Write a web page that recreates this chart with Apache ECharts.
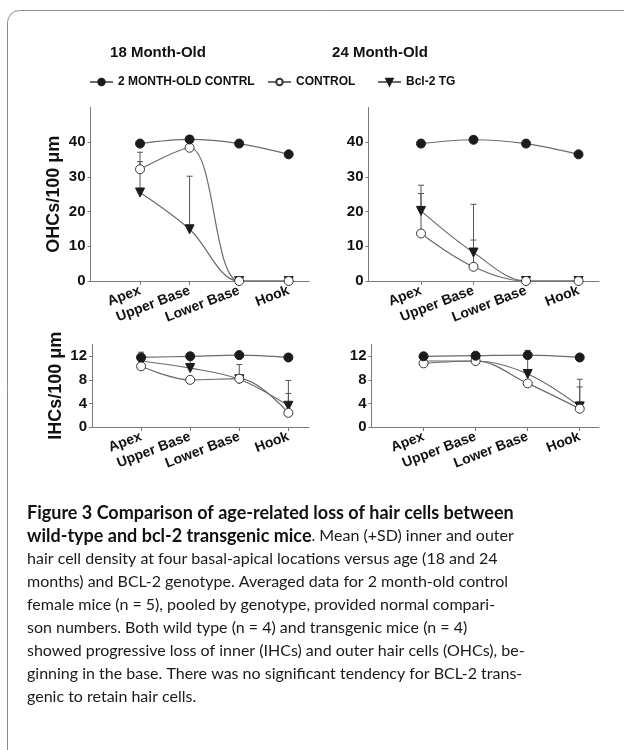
<!DOCTYPE html>
<html lang="en">
<head>
<meta charset="UTF-8">
<title>Figure 3</title>
<style>
  html, body { margin: 0; padding: 0; background: #fff; }
  #chart { width: 624px; height: 750px; }
</style>
</head>
<body>
<div id="chart"></div>
<script src="https://cdn.jsdelivr.net/npm/echarts@6/dist/echarts.min.js"></script>
<script>
// locations along the cochlea (x positions 1..4)
var locations = ['Apex', 'Upper Base', 'Lower Base', 'Hook'];
var groupNames = ['2 MONTH-OLD CONTRL', 'CONTROL', 'Bcl-2 TG'];
var ohcTicks = [0, 10, 20, 30, 40];
var ihcTicks = [0, 4, 8, 12];

// OHCs/100 um, 18 month-old
var ohc18Ctrl2mo = [39.6, 40.8, 39.6, 36.5];
var ohc18Control = [32.2, 38.4, 0, 0];
var ohc18Bcl2 = [25.5, 14.9, 0, 0];
var ohc18Ctrl2moSd = [0, 1.0, 0, 0];
var ohc18ControlSd = [4.9, 0, 0, 0];
var ohc18Bcl2Sd = [8.9, 15.3, 0, 0];

// OHCs/100 um, 24 month-old
var ohc24Ctrl2mo = [39.6, 40.7, 39.6, 36.5];
var ohc24Control = [13.7, 4.1, 0, 0];
var ohc24Bcl2 = [20.2, 8.2, 0, 0];
var ohc24Ctrl2moSd = [0, 0, 0, 0];
var ohc24ControlSd = [11.5, 7.7, 0, 0];
var ohc24Bcl2Sd = [7.4, 13.9, 0, 0];

// IHCs/100 um, 18 month-old
var ihc18Ctrl2mo = [11.8, 12.0, 12.2, 11.8];
var ihc18Control = [10.3, 8.0, 8.2, 2.4];
var ihc18Bcl2 = [11.2, 10.0, 8.1, 3.6];
var ihc18Ctrl2moSd = [0.9, 0, 0, 0];
var ihc18ControlSd = [0, 0, 0, 3.3];
var ihc18Bcl2Sd = [0, 1.9, 2.5, 4.3];

// IHCs/100 um, 24 month-old
var ihc24Ctrl2mo = [12.0, 12.1, 12.2, 11.8];
var ihc24Control = [10.8, 11.2, 7.4, 3.1];
var ihc24Bcl2 = [11.2, 11.2, 9.0, 3.5];
var ihc24Ctrl2moSd = [0, 0, 0.8, 0];
var ihc24ControlSd = [0, 0, 0, 3.7];
var ihc24Bcl2Sd = [0, 0, 3.2, 4.6];

var captionLines = [
    '{b|Figure 3 Comparison of age-related loss of hair cells between}',
    '{b|wild-type and bcl-2 transgenic mice}. Mean (+SD) inner and outer',
    'hair cell density at four basal-apical locations versus age (18 and 24',
    'months) and BCL-2 genotype. Averaged data for 2 month-old control',
    'female mice (n = 5), pooled by genotype, provided normal compari-',
    'son numbers. Both wild type (n = 4) and transgenic mice (n = 4)',
    'showed progressive loss of inner (IHCs) and outer hair cells (OHCs), be-',
    'ginning in the base. There was no significant tendency for BCL-2 trans-',
    'genic to retain hair cells.'
];

var FONT = '"Liberation Sans", Arial, sans-serif';
var CAPFONT = 'Lato, "Open Sans", sans-serif';
var lineColor = '#6b6b6b';
var markColor = '#1b1b1b';

var symbols = [
    { symbol: 'circle', rotate: 0, item: { color: markColor, borderColor: markColor, borderWidth: 1 } },
    { symbol: 'circle', rotate: 0, item: { color: '#fff', borderColor: '#333', borderWidth: 1 } },
    { symbol: 'triangle', rotate: 180, item: { color: markColor, borderColor: markColor, borderWidth: 1 } }
];

function pts(vals) {
    return vals.map(function (v, i) { return [i + 1, v]; });
}

function errData(vals, sd) {
    var out = [];
    for (var i = 0; i < vals.length; i++) {
        if (sd[i] > 0) out.push([i + 1, vals[i], vals[i] + sd[i]]);
    }
    return out;
}

function renderErr(params, api) {
    var p0 = api.coord([api.value(0), api.value(1)]);
    var p1 = api.coord([api.value(0), api.value(2)]);
    var st = { stroke: '#555', lineWidth: 1 };
    return {
        type: 'group',
        children: [
            { type: 'line', shape: { x1: p0[0], y1: p0[1], x2: p1[0], y2: p1[1] }, style: st },
            { type: 'line', shape: { x1: p1[0] - 3, y1: p1[1], x2: p1[0] + 3, y2: p1[1] }, style: st }
        ]
    };
}

var panels = [
    { grid: { left: 90.5, top: 107.5, width: 218.5, height: 173.5 }, xmax: 4.41, ymax: 50, ticks: ohcTicks, name: 'OHCs/100 μm',
      vals: [ohc18Ctrl2mo, ohc18Control, ohc18Bcl2], sds: [ohc18Ctrl2moSd, ohc18ControlSd, ohc18Bcl2Sd] },
    { grid: { left: 368.5, top: 107.5, width: 230.5, height: 173.5 }, xmax: 4.39, ymax: 50, ticks: ohcTicks, name: '',
      vals: [ohc24Ctrl2mo, ohc24Control, ohc24Bcl2], sds: [ohc24Ctrl2moSd, ohc24ControlSd, ohc24Bcl2Sd] },
    { grid: { left: 92, top: 344.5, width: 217, height: 82.5 }, xmax: 4.42, ymax: 14, ticks: ihcTicks, name: 'IHCs/100 μm',
      vals: [ihc18Ctrl2mo, ihc18Control, ihc18Bcl2], sds: [ihc18Ctrl2moSd, ihc18ControlSd, ihc18Bcl2Sd] },
    { grid: { left: 371.5, top: 344.5, width: 227.5, height: 82.5 }, xmax: 4.37, ymax: 14, ticks: ihcTicks, name: '',
      vals: [ihc24Ctrl2mo, ihc24Control, ihc24Bcl2], sds: [ihc24Ctrl2moSd, ihc24ControlSd, ihc24Bcl2Sd] }
];

var grids = [], xAxes = [], yAxes = [], series = [];
var axisLine = { lineStyle: { color: '#7a7a7a', width: 1 } };

panels.forEach(function (p, k) {
    grids.push(p.grid);
    xAxes.push({
        type: 'value', gridIndex: k, min: 0, max: p.xmax,
        axisLine: axisLine,
        splitLine: { show: false },
        axisTick: { show: true, length: 4, inside: false, customValues: [1, 2, 3, 4], lineStyle: { color: '#7a7a7a' } },
        axisLabel: {
            customValues: [1, 2, 3, 4], rotate: 21, margin: 9,
            fontFamily: FONT, fontWeight: 'bold', fontSize: 14, color: '#111',
            formatter: function (v) { return locations[Math.round(v) - 1] || ''; }
        }
    });
    yAxes.push({
        type: 'value', gridIndex: k, min: 0, max: p.ymax,
        name: p.name, nameLocation: 'middle', nameGap: 27,
        nameTextStyle: { fontFamily: FONT, fontWeight: 'bold', fontSize: 18, color: '#111' },
        axisLine: { show: true, lineStyle: { color: '#7a7a7a', width: 1 } },
        splitLine: { show: false },
        axisTick: { show: true, length: 3, customValues: p.ticks, lineStyle: { color: '#7a7a7a' } },
        axisLabel: { customValues: p.ticks, margin: 5, fontFamily: FONT, fontWeight: 'bold', fontSize: 15, color: '#111' }
    });
    for (var s = 0; s < 3; s++) {
        series.push({
            type: 'custom', xAxisIndex: k, yAxisIndex: k, z: 1,
            renderItem: renderErr, encode: { x: 0, y: [1, 2] },
            data: errData(p.vals[s], p.sds[s]), silent: true
        });
    }
    for (var s2 = 2; s2 >= 0; s2--) {
        series.push({
            type: 'line', name: groupNames[s2], xAxisIndex: k, yAxisIndex: k, z: 3 + (2 - s2),
            data: pts(p.vals[s2]), smooth: 0.35,
            symbol: symbols[s2].symbol, symbolRotate: symbols[s2].rotate, symbolSize: 9,
            lineStyle: { color: lineColor, width: 1.2 },
            itemStyle: symbols[s2].item,
            emphasis: { disabled: true }, silent: true
        });
    }
});

var legendBase = {
    top: 71, itemWidth: 23, itemHeight: 8, itemGap: 0,
    textStyle: { fontFamily: FONT, fontWeight: 'bold', fontSize: 12, color: '#111' }
};
var legends = [
    Object.assign({ left: 84, data: [groupNames[0]] }, legendBase),
    Object.assign({ left: 262, data: [groupNames[1]] }, legendBase),
    Object.assign({ left: 372, data: [groupNames[2]] }, legendBase)
];

var graphics = [
    { type: 'rect', shape: { x: 7.5, y: 10.5, width: 700, height: 800, r: 12 }, style: { fill: null, stroke: '#8c8c8c', lineWidth: 1 }, silent: true },
    { type: 'text', x: 158, y: 53, style: { text: '18 Month-Old', fontFamily: FONT, fontWeight: 'bold', fontSize: 15, fill: '#111', align: 'center', verticalAlign: 'middle' } },
    { type: 'text', x: 380, y: 53, style: { text: '24 Month-Old', fontFamily: FONT, fontWeight: 'bold', fontSize: 15, fill: '#111', align: 'center', verticalAlign: 'middle' } }
];
captionLines.forEach(function (t, i) {
    graphics.push({
        type: 'text', x: 27, y: 513 + i * 23,
        style: {
            text: t, fontFamily: CAPFONT, fontSize: 16, fill: '#1a1a1a',
            verticalAlign: 'middle', rich: { b: { fontWeight: 'bold', fontFamily: CAPFONT, fontSize: 18, fill: '#111' } }
        }
    });
});

var myChart = echarts.init(document.getElementById('chart'));
var option = {
    animation: false,
    grid: grids,
    xAxis: xAxes,
    yAxis: yAxes,
    legend: legends,
    series: series,
    graphic: graphics
};
myChart.setOption(option);
</script>
</body>
</html>
